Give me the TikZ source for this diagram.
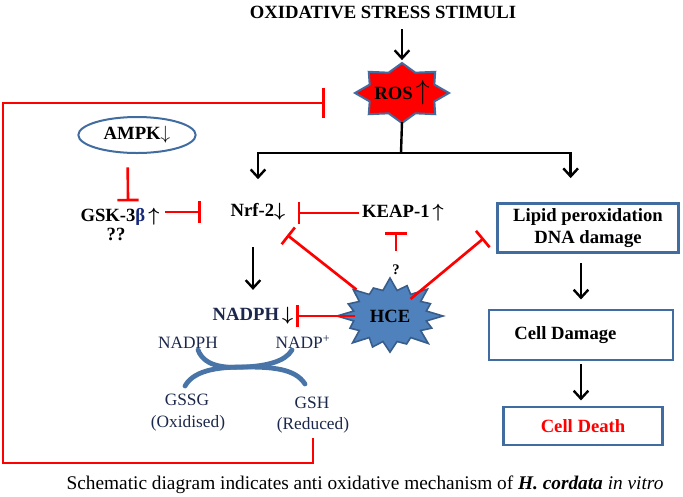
\documentclass[tikz,border=0pt]{standalone}
\usepackage{fontspec}
\setmainfont{Liberation Serif}
\usetikzlibrary{arrows.meta, shapes.geometric}
\definecolor{boxBlue}{RGB}{65,108,160}
\definecolor{hceBlue}{RGB}{79,129,189}
\definecolor{hceEdge}{RGB}{56,93,138}
\definecolor{cycBlue}{RGB}{72,116,168}
\definecolor{navyText}{RGB}{28,40,75}
\definecolor{betaBlue}{RGB}{20,40,120}

\begin{document}
\begin{tikzpicture}[x=0.75pt, y=-0.75pt,
  lbl/.style={font=\fontsize{14}{16}\selectfont\bfseries, inner sep=2pt},
  sml/.style={font=\fontsize{13}{15}\selectfont, text=navyText, inner sep=1pt},
  box/.style={draw=boxBlue, line width=1.8pt, fill=white},
  blk/.style={line width=1.8pt, -{Straight Barb[length=6pt, width=11pt]}},
  inh/.style={draw=red, line width=2pt, -{Bar[width=16pt]}},
  cyc/.style={draw=cycBlue, line width=3.6pt, line cap=round}]

\useasboundingbox (0,0) rectangle (683,497);

% Stars
\coordinate (rosC) at (402,93);
\coordinate (hceC) at (390,316);
\draw[fill=red, draw=boxBlue, line width=1.5pt, shift={(rosC)}]
  (0:47 and 30) \foreach \a in {22.5,67.5,...,337.5} { -- (\a:35 and 22) -- (\a+22.5:47 and 30) } -- cycle;
\draw[fill=hceBlue, draw=hceEdge, line width=1.2pt, shift={(hceC)}]
  (0:53 and 38) \foreach \a/\r [evaluate=\r as \rx using 53*\r, evaluate=\r as \ry using 38*\r] in
  {22/0.85, 45/1.02, 67/0.8, 90/0.95, 112/0.88, 135/1.0, 157/0.82, 180/1.0,
   202/0.85, 225/0.98, 247/0.8, 270/1.0, 292/0.86, 315/1.0, 337/0.83, 360/1.0}
  { -- (\a-11:37 and 26) -- (xyz polar cs:angle=\a, x radius=\rx, y radius=\ry) } -- cycle;

% Labels
\node (title) at (383,12) [lbl] {OXIDATIVE STRESS STIMULI};
\node (ros) at (rosC) [lbl, inner sep=0pt, minimum width=70pt, minimum height=43pt] {ROS\,{\mdseries\fontsize{20}{20}\selectfont$\uparrow$}};
\node (hce) at (hceC) [lbl] {HCE};
\node (ampk) at (137,135) [lbl, ellipse, draw=boxBlue, line width=1.5pt, minimum width=88pt, minimum height=27pt, inner sep=0pt] {AMPK$\downarrow$};
\node (gsk) at (120,217) [lbl] {GSK-3{\color{betaBlue}β}\,{\boldmath$\uparrow$}};
\node (qq) at (116,234) [lbl, inner sep=0pt] {??};
\node (nrf) at (258,212) [lbl] {Nrf-2{\boldmath$\downarrow$}};
\node (keap) at (403,213) [lbl] {KEAP-1\,{\boldmath$\uparrow$}};
\node (qmark) at (396,270) [lbl, font=\fontsize{11}{13}\selectfont\bfseries, inner sep=1pt] {?};
\node (nadph) at (253,316) [lbl, text=navyText] {NADPH\,{\color{black}\boldmath$\downarrow$}};
\node (nadphS) at (188,343) [sml] {NADPH};
\node (nadpP) at (303,342) [sml] {NADP\textsuperscript{+}};
\node (gssg) at (187,400) [sml] {GSSG};
\node (oxid) at (188,423) [sml] {(Oxidised)};
\node (gsh) at (312,403) [sml] {GSH};
\node (reduc) at (313,425) [sml] {(Reduced)};

% Boxes
\node (lipid) at (588,228) [box, lbl, minimum width=136pt, minimum height=37pt, align=center] {Lipid peroxidation\\DNA damage};
\node (damage) at (581,335) [box, lbl, minimum width=138pt, minimum height=37.5pt] {\makebox[100pt][l]{Cell Damage}};
\node (death) at (583,426) [box, lbl, text=red, minimum width=119pt, minimum height=28.5pt] {Cell Death};

\node (caption) at (365,485) [font=\fontsize{14.5}{16}\selectfont] {Schematic diagram indicates anti oxidative mechanism of \textbf{\textit{H. cordata}} \textit{in vitro}};

% Black arrows
\coordinate (split) at (401,153);
\draw[blk, shorten <=6pt, shorten >=3pt] (title.south -| ros.north) -- (ros.north);
\draw[line width=1.8pt] (ros.south) -- (split);
\draw[blk, shorten >=16pt] (split) -| (nrf.north);
\draw[blk, shorten >=18pt] (split) -| ([xshift=-13pt]lipid.north);
\draw[blk, shorten <=18pt, shorten >=11pt] (nadph.north |- nrf.south) -- (nadph.north);
\draw[blk, shorten <=7pt, shorten >=7pt] (damage.north |- lipid.south) -- (damage.north);
\draw[blk, shorten <=2pt, shorten >=4pt] (damage.south) -- (damage.south |- death.north);

% Inhibitions
\draw[inh, -{Bar[width=23pt]}] ([yshift=-3pt]reduc.south) |- (3,463) |- ([shift={(-30,10)}]ros.west);
\draw[inh, shorten <=10pt, shorten >=3pt] ([xshift=-7pt]ampk.south) -- ([xshift=6pt]gsk.north);
\draw[inh, shorten <=2pt, shorten >=20pt] (gsk.east |- nrf.west) -- (nrf.west);
\draw[inh, shorten >=7pt] (keap.west) -- (keap.west -| nrf.east);
\draw[inh, shorten <=9pt, shorten >=6pt] (qmark.north) -- (keap.south -| qmark.north);
\draw[inh, shorten <=32pt, shorten >=14pt] (hce.center) -- (nrf);
\draw[inh, shorten <=20pt, shorten >=12pt] (hce.center) -- (lipid.west);
\draw[inh, shorten <=26pt] (hce.center) -- (nadph.east);

% NADPH / GSH cycle
\draw[cyc] (198,350) .. controls (205,368) and (228,368) .. (245,367) .. controls (265,366) and (285,362) .. (292,350);
\draw[cyc] (185,386) .. controls (195,368) and (225,367) .. (245,367) .. controls (270,367) and (295,368) .. (305,384);

\end{tikzpicture}
\end{document}
